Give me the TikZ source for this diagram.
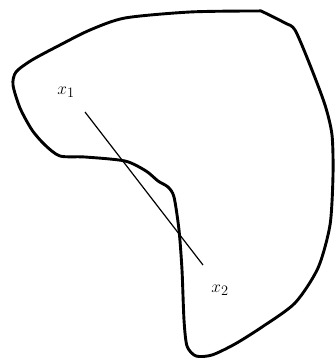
\documentclass[tikz,border=0pt]{standalone}
\begin{document}
\begin{tikzpicture}[x=1pt,y=-1pt,
  blob/.style={line width=2.9pt,line join=round},
  seg/.style={line width=1.2pt},
  lbl/.style={inner sep=0pt,font=\fontsize{19}{22}\selectfont}]
\useasboundingbox (0,0) rectangle (334,358);
\draw[blob] plot[smooth cycle,tension=0.45] coordinates {
 (125,18) (190,12) (255,11) (263,12) (285,23) (295,30) (310,65) (325,105)
 (332,135) (333,175) (330,225) (318,268) (295,303) (262,327) (235,344)
 (212,355) (196,356) (187,346) (184,320) (182,270) (179,230) (174,197)
 (168,187) (158,181) (146,171) (125,161) (85,157) (60,156) (45,145)
 (32,130) (20,108) (13,85) (16,72) (32,60) (60,45) (90,30)};
\coordinate (p1) at (85,112);
\coordinate (p2) at (203,265);
\draw[seg] (p1) -- (p2);
\node[lbl] (x1) at (66,92) {$x_1$};
\node[lbl] (x2) at (220,290) {$x_2$};
\end{tikzpicture}
\end{document}
